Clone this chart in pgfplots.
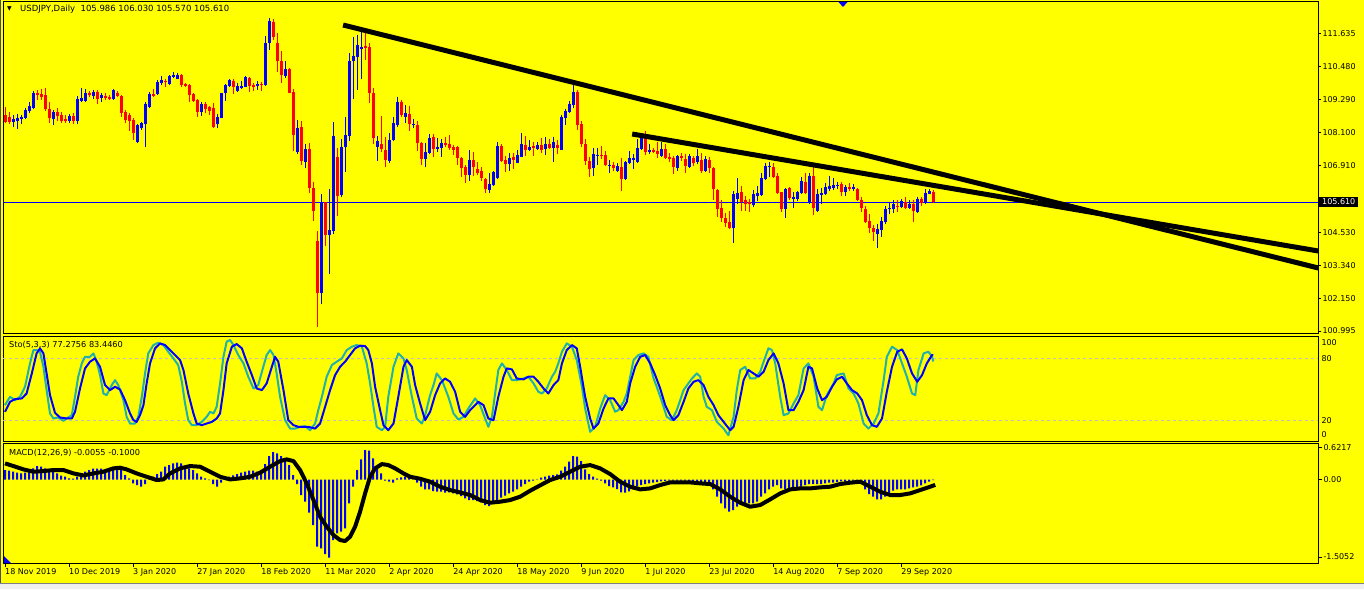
\documentclass[border=0pt]{standalone}
\usepackage{pgfplots}
\pgfplotsset{compat=1.18}
\usepackage{pgfplotstable}
\usepackage{fontspec}
\setmainfont{DejaVu Sans}
\definecolor{mtYellow}{HTML}{FFFF00}
\definecolor{mtBlue}{HTML}{0000FF}
\definecolor{mtRed}{HTML}{FF0000}
\definecolor{mtTeal}{HTML}{20B2AA}
\definecolor{mtSilver}{HTML}{C0C0C0}

% daily candles: bar index, open, high, low, close
\pgfplotstableread{
i o h l c
0 108.73 109.03 108.44 108.49
1 108.67 108.83 108.41 108.49
2 108.49 108.73 108.29 108.60
3 108.53 108.76 108.24 108.61
4 108.58 108.73 108.41 108.65
5 108.61 108.97 108.58 108.91
6 108.88 109.21 108.82 109.06
7 108.97 109.60 108.94 109.51
8 109.51 109.63 109.27 109.44
9 109.47 109.68 109.27 109.37
10 109.46 109.69 108.89 108.94
11 108.94 109.21 108.46 108.61
12 108.59 108.91 108.39 108.83
13 108.83 108.97 108.53 108.70
14 108.72 108.83 108.44 108.53
15 108.58 108.73 108.44 108.53
16 108.53 108.76 108.44 108.70
17 108.70 108.79 108.41 108.53
18 108.53 109.43 108.41 109.31
19 109.25 109.69 109.21 109.34
20 109.25 109.65 109.21 109.51
21 109.51 109.60 109.39 109.44
22 109.43 109.63 109.31 109.56
23 109.56 109.63 109.13 109.31
24 109.34 109.51 109.21 109.45
25 109.41 109.51 109.27 109.35
26 109.39 109.45 109.27 109.32
27 109.29 109.68 109.27 109.63
28 109.53 109.60 109.37 109.41
29 109.41 109.45 108.67 108.82
30 108.85 108.91 108.46 108.55
31 108.73 108.79 108.17 108.53
32 108.55 108.64 107.84 108.08
33 107.78 108.41 107.72 108.38
34 108.28 108.50 108.20 108.44
35 108.41 109.21 107.60 109.13
36 109.01 109.57 108.97 109.49
37 109.49 109.65 109.38 109.40
38 109.49 109.99 109.46 109.93
39 109.87 110.13 109.82 109.99
40 109.96 110.01 109.75 109.92
41 109.84 110.15 109.82 110.13
42 110.09 110.29 110.05 110.15
43 110.04 110.23 110.01 110.17
44 110.17 110.20 109.72 109.81
45 109.83 109.87 109.72 109.77
46 109.80 109.84 109.21 109.45
47 109.47 109.51 109.21 109.23
48 109.27 109.30 108.67 108.85
49 108.85 109.21 108.70 109.13
50 109.12 109.21 108.82 108.95
51 109.01 109.06 108.73 108.88
52 108.97 109.15 108.26 108.32
53 108.41 108.76 108.28 108.67
54 108.64 109.53 108.61 109.51
55 109.51 109.83 109.23 109.81
56 109.77 110.01 109.72 109.98
57 109.95 110.01 109.49 109.72
58 109.60 109.87 109.57 109.77
59 109.71 109.94 109.65 109.78
60 109.75 110.13 109.72 110.08
61 110.05 110.08 109.57 109.77
62 109.81 109.87 109.60 109.75
63 109.77 109.94 109.63 109.84
64 109.86 109.93 109.60 109.82
65 109.81 111.56 109.77 111.30
66 111.30 112.20 111.06 112.11
67 112.06 112.16 111.42 111.54
68 111.32 111.66 110.29 110.68
69 110.67 111.04 109.87 110.17
70 110.13 110.67 110.05 110.38
71 110.38 110.40 109.51 109.53
72 109.56 109.65 107.46 108.02
73 107.40 108.55 107.34 108.28
74 108.32 108.53 106.94 107.08
75 107.06 107.69 106.82 107.52
76 107.52 107.74 105.95 106.13
77 106.13 106.33 104.95 105.31
78 104.23 104.59 101.15 102.35
79 102.35 105.90 101.96 105.63
80 105.63 105.63 104.04 104.44
81 104.44 106.08 103.04 104.61
82 104.58 108.49 104.47 107.98
83 107.24 107.54 105.12 105.83
84 105.87 107.86 105.81 107.60
85 107.60 108.65 106.70 108.02
86 107.98 110.94 107.81 110.67
87 110.67 111.52 109.30 110.85
88 110.80 111.60 109.63 111.24
89 111.13 111.78 110.02 111.16
90 111.20 111.72 110.70 111.15
91 111.17 111.30 109.18 109.51
92 109.51 109.69 107.70 107.92
93 107.60 108.00 107.10 107.80
94 107.68 108.70 107.42 107.52
95 107.48 107.96 106.88 107.12
96 107.10 108.10 107.00 107.84
97 107.84 108.65 107.81 108.44
98 108.38 109.37 108.32 109.20
99 109.20 109.27 108.65 108.73
100 108.67 109.09 108.46 108.79
101 108.76 109.06 108.17 108.41
102 108.39 108.59 108.26 108.41
103 108.38 108.52 107.46 107.72
104 107.74 107.78 106.94 107.16
105 107.16 107.74 106.88 107.41
106 107.36 108.05 107.34 107.90
107 107.93 108.05 107.24 107.52
108 107.50 107.92 107.42 107.59
109 107.56 107.86 107.24 107.72
110 107.72 107.93 107.60 107.68
111 107.70 108.02 107.48 107.56
112 107.60 107.66 107.30 107.48
113 107.59 107.64 106.93 107.20
114 107.18 107.24 106.52 106.85
115 106.87 106.94 106.31 106.58
116 106.58 107.48 106.37 107.14
117 107.12 107.41 106.55 106.88
118 106.80 107.04 106.58 106.64
119 106.72 106.86 106.38 106.48
120 106.44 106.49 105.95 106.07
121 106.05 106.64 105.95 106.26
122 106.23 106.73 106.19 106.69
123 106.49 107.77 106.45 107.62
124 107.62 107.69 107.06 107.08
125 107.12 107.28 106.70 106.98
126 106.98 107.36 106.74 107.18
127 107.23 107.36 106.80 107.12
128 107.03 107.48 107.00 107.30
129 107.24 108.08 107.22 107.70
130 107.66 107.98 107.28 107.48
131 107.48 107.84 107.46 107.59
132 107.64 107.78 107.28 107.56
133 107.52 107.77 107.48 107.66
134 107.66 107.90 107.38 107.48
135 107.52 107.95 107.30 107.70
136 107.70 107.86 107.50 107.54
137 107.54 107.93 107.05 107.75
138 107.67 107.84 107.34 107.54
139 107.48 108.73 107.48 108.67
140 108.63 108.96 108.38 108.88
141 108.85 109.23 108.79 109.13
142 109.08 109.80 109.00 109.56
143 109.56 109.63 108.20 108.38
144 108.41 108.53 107.60 107.68
145 107.70 107.87 106.94 107.10
146 107.08 107.24 106.52 106.80
147 106.85 107.55 106.56 107.34
148 107.28 107.55 106.94 107.30
149 107.30 107.62 107.16 107.28
150 107.30 107.46 106.92 106.94
151 106.93 107.12 106.64 106.95
152 106.94 107.04 106.73 106.85
153 106.74 107.00 106.68 106.91
154 106.86 107.18 106.01 106.46
155 106.44 107.09 106.40 107.05
156 107.00 107.44 106.97 107.19
157 107.12 107.34 106.79 107.19
158 107.04 107.86 107.00 107.55
159 107.52 107.98 107.48 107.93
160 107.90 108.16 107.30 107.42
161 107.41 107.70 107.34 107.48
162 107.48 107.54 107.36 107.41
163 107.44 107.78 107.20 107.34
164 107.28 107.78 107.24 107.52
165 107.52 107.68 107.15 107.20
166 107.24 107.36 107.06 107.16
167 107.19 107.26 106.61 106.88
168 106.85 107.30 106.74 107.27
169 107.27 107.36 107.10 107.22
170 107.15 107.32 106.64 106.92
171 106.88 107.34 106.82 107.27
172 107.18 107.28 106.92 107.00
173 107.04 107.50 106.97 107.27
174 107.12 107.36 106.64 106.73
175 106.74 107.27 106.70 107.16
176 107.12 107.24 106.67 106.82
177 106.85 106.88 105.69 106.08
178 106.05 106.07 105.09 105.35
179 105.39 105.69 104.91 105.06
180 105.06 105.21 104.73 104.88
181 104.91 105.29 104.64 104.67
182 104.69 106.02 104.16 105.90
183 105.72 106.47 105.54 105.95
184 105.96 106.19 105.31 105.63
185 105.69 105.84 105.31 105.55
186 105.63 105.71 105.27 105.55
187 105.51 106.05 105.45 105.90
188 105.84 106.19 105.67 105.95
189 105.87 106.64 105.84 106.47
190 106.44 107.00 106.40 106.91
191 106.88 107.04 106.52 106.92
192 106.88 107.03 106.47 106.52
193 106.55 106.64 105.89 105.93
194 105.96 105.99 105.25 105.37
195 105.37 106.13 105.06 106.08
196 106.12 106.17 105.69 105.75
197 105.73 105.99 105.42 105.78
198 105.73 106.02 105.67 105.96
199 105.93 106.52 105.89 106.37
200 106.35 106.64 105.89 105.93
201 105.59 106.67 105.55 106.55
202 106.55 106.94 105.15 105.41
203 105.31 106.08 105.25 105.90
204 105.87 106.11 105.55 105.95
205 105.90 106.31 105.87 106.14
206 106.08 106.55 106.02 106.19
207 106.13 106.46 106.05 106.23
208 106.19 106.35 106.07 106.23
209 106.26 106.32 105.84 105.96
210 105.96 106.23 105.83 106.14
211 106.14 106.29 106.02 106.08
212 106.11 106.25 106.02 106.13
213 106.08 106.11 105.65 105.69
214 105.69 105.81 105.27 105.41
215 105.37 105.49 104.88 104.91
216 104.94 105.18 104.50 104.67
217 104.70 104.79 104.23 104.53
218 104.47 104.83 103.98 104.65
219 104.61 105.09 104.38 104.94
220 104.91 105.49 104.83 105.37
221 105.37 105.63 105.18 105.42
222 105.35 105.69 105.21 105.55
223 105.49 105.69 105.25 105.45
224 105.45 105.72 105.39 105.65
225 105.63 105.81 105.35 105.39
226 105.41 105.69 105.37 105.55
227 105.53 105.69 104.91 105.29
228 105.25 105.78 105.21 105.72
229 105.72 105.78 105.49 105.57
230 105.57 106.08 105.55 105.95
231 105.90 106.08 105.89 106.01
232 105.986 106.030 105.570 105.610
}\candles

% stochastic (5,3,3): main line and signal line
\pgfplotstableread{
i v
0 34.9
1.25 43.0
2.5 39.7
3.75 43.0
5 52.7
6.25 75.5
7.1 88.4
7.9 88.4
8.75 86.8
9.6 72.2
10.4 49.5
11.25 26.8
12.1 21.9
13.3 22.9
14.6 19.6
15.4 21.9
16.7 25.1
17.5 43.0
18.3 62.5
19.2 75.5
20 81.9
21.25 81.9
22.1 85.2
22.9 77.1
23.75 64.1
24.6 46.2
25.4 44.6
26.7 54.4
27.5 59.2
28.3 54.4
29.6 39.7
30.4 23.5
31.25 17.0
32.5 17.0
33.3 23.5
34.2 43.0
35 65.7
35.8 85.2
37.1 93.3
38.3 95.6
39.6 93.3
40.8 86.8
42.1 80.3
43.3 73.8
44.2 57.6
45 36.5
45.8 20.3
46.7 15.4
47.9 15.4
49.2 18.6
50.4 23.5
51.25 28.4
52.1 26.8
52.9 33.2
53.75 56.0
54.6 81.9
55.4 96.6
56.25 98.2
57.1 93.3
58.3 83.6
59.6 75.5
60.8 62.5
62.1 51.1
63.3 54.4
64.2 67.3
65.4 83.6
66.25 88.4
67.1 83.6
67.9 65.7
68.75 43.0
70 20.3
71.25 12.1
72.5 12.1
73.75 13.8
75 14.4
76.25 10.5
77.5 17.0
78.3 30.0
79.2 43.0
80.4 62.5
81.7 73.8
82.9 77.1
84.2 80.3
85.4 88.4
86.7 91.7
87.9 93.3
89.2 91.7
90.4 75.5
91.25 56.0
92.1 33.2
92.9 13.8
94.2 10.5
95 13.8
95.8 43.0
97.1 72.2
98.3 85.2
99.6 80.3
100.4 69.0
101.7 43.0
102.9 21.9
104.2 17.0
105 25.1
106.25 44.6
107.1 54.4
107.9 65.7
109.2 59.2
110.8 43.0
112.1 26.8
113.3 20.9
114.6 23.5
115.8 31.6
117.5 41.4
118.75 34.9
120 21.9
120.8 13.8
121.7 23.5
122.5 46.2
123.3 69.0
124.2 75.5
125.4 69.0
126.7 59.2
127.9 59.2
129.6 60.8
130.8 62.5
132.1 56.0
133.3 47.9
134.2 46.2
135.4 51.1
136.7 62.5
137.5 67.3
138.3 75.5
139.2 86.8
140.4 94.9
141.7 91.7
142.9 78.7
144.2 52.7
145 31.6
146.25 8.9
147.5 13.8
148.75 31.6
150 44.6
151.25 39.7
152.5 28.4
153.3 30.0
154.6 38.1
155.4 46.2
156.25 62.5
157.1 78.7
158.3 83.6
159.6 85.2
160.8 81.9
162.1 60.8
162.9 52.7
164.2 38.1
165.4 23.5
166.7 20.3
167.9 30.0
168.75 39.7
169.6 49.5
170.8 56.0
171.7 60.8
172.9 65.7
173.75 62.5
174.6 43.0
175.4 33.2
176.7 30.0
177.9 18.6
179.6 12.1
180.8 5.6
182.1 23.5
182.9 49.5
183.75 69.0
185 72.2
186.25 60.8
187.5 60.8
188.75 67.3
189.6 77.1
190.8 90.1
191.7 88.4
192.5 75.5
193.75 43.0
194.6 25.1
195.8 26.8
197.1 36.5
198.3 44.6
199.6 70.6
200.8 75.5
202.1 62.5
203.3 33.2
204.2 30.0
205.4 44.6
207.1 56.0
207.9 64.1
209.6 65.7
210.8 51.1
212.1 46.2
213.3 36.5
214.6 17.0
215.8 12.1
217.1 17.0
218.3 26.8
219.6 59.2
220.4 81.9
221.7 91.7
223 88.4
224.2 75.5
225.4 62.5
226.7 46.2
227.5 44.6
228.3 69.0
229.6 85.2
230.8 86.8
231.7 81.9
232 77.28
}\stomain

\pgfplotstableread{
i v
0 28.4
1.25 38.1
2.5 40.7
4.2 41.4
5.4 46.2
6.7 65.7
7.9 85.2
8.75 90.1
9.6 85.2
10.4 65.7
11.25 44.6
12.5 27.4
13.75 22.9
15.4 21.9
16.7 21.9
17.5 28.4
18.75 51.1
20 70.6
21.25 77.1
22.5 80.3
23.75 72.2
25 54.4
26.25 49.5
27.5 52.7
28.75 50.1
30 39.7
31.25 26.8
32.1 20.3
32.9 18.6
33.75 25.1
34.6 34.9
35.4 56.0
36.25 75.5
37.5 90.1
38.75 94.9
40 93.3
41.25 88.4
42.5 83.6
43.75 78.7
44.6 69.0
45.8 46.2
47.1 26.8
47.9 17.0
49.2 15.4
50.4 17.0
51.7 18.6
52.9 21.9
53.75 26.8
54.6 49.5
55.4 75.5
56.7 91.7
57.9 94.3
59.2 90.1
60.4 77.1
61.7 64.1
62.9 51.1
64.2 49.5
65.4 56.0
66.7 72.2
67.5 81.9
68.3 77.1
69.6 49.5
70.8 20.3
72.1 15.4
73.3 13.8
74.6 13.8
75.8 13.8
77.5 12.1
78.75 17.0
80 33.2
81.25 49.5
82.5 64.1
83.75 72.2
85 77.1
86.25 83.6
87.5 90.1
88.75 92.7
90 92.3
90.8 88.4
91.7 75.5
92.5 52.7
93.75 30.0
94.6 15.4
95.8 10.5
97.1 17.0
98.3 43.0
99.6 72.2
100.4 78.7
101.7 72.2
102.5 54.4
103.75 36.5
105 20.3
106.25 28.4
107.5 44.6
108.75 56.0
110 60.8
111.25 57.6
112.5 47.9
113.75 28.4
115 23.5
116.25 30.0
118.3 38.1
119.6 34.9
120.8 21.9
122.1 20.3
123.3 43.0
124.6 62.5
125.4 70.6
126.7 69.6
127.9 60.8
129.6 59.9
130.8 62.5
132.1 62.5
133.3 57.6
134.6 51.1
135.8 46.2
137.1 54.4
138.3 59.2
139.2 75.5
140.4 88.4
141.7 93.3
142.9 90.1
143.75 72.2
145 43.0
146.25 21.9
147.1 12.1
148.3 17.0
149.6 31.6
150.8 41.4
152.1 41.4
153.3 34.9
154.2 30.0
155.4 38.1
156.25 56.0
157.5 72.2
158.75 81.9
160 83.6
161.25 75.5
162.5 64.1
163.75 51.1
165 34.9
166.25 25.1
167.1 20.3
168.3 25.1
169.6 38.1
170.8 51.1
172.1 57.6
173.3 59.2
174.6 54.4
175.8 43.0
177.1 34.9
178.3 25.1
179.6 18.6
181.25 10.5
182.1 13.8
183.3 33.2
184.6 59.2
185.8 69.0
187.1 65.7
188.3 62.5
189.6 67.3
190.8 78.7
192.1 85.2
193.3 75.5
194.6 56.0
195.8 30.0
197.1 30.0
198.3 38.1
199.6 49.5
200.8 72.2
201.7 70.6
203 51.1
204.2 39.7
205.4 43.0
206.7 52.7
207.9 59.9
209.2 62.5
210.4 56.0
211.7 49.5
213 46.2
214.2 39.7
215.4 25.1
216.7 15.4
217.9 13.8
219.2 21.9
220.4 47.9
221.7 72.2
223 86.8
224.2 89.1
225.4 80.3
226.7 65.7
228 57.6
229.2 64.1
230.4 75.5
231.7 83.6
232 83.45
}\stosignal

% MACD(12,26,9): main values (histogram) and signal line
\pgfplotstableread{
i m
0 0.188
1 0.175
2 0.156
3 0.136
4 0.123
5 0.136
6 0.156
7 0.221
8 0.266
9 0.253
10 0.221
11 0.188
12 0.156
13 0.123
14 0.078
15 0.058
16 0.026
17 0.019
18 0.058
19 0.110
20 0.156
21 0.188
22 0.214
23 0.214
24 0.214
25 0.188
26 0.188
27 0.221
28 0.240
29 0.188
30 0.091
31 0.026
32 -0.071
33 -0.104
34 -0.136
35 -0.084
36 0.006
37 0.058
38 0.110
39 0.156
40 0.253
41 0.285
42 0.318
43 0.331
44 0.318
45 0.266
46 0.221
47 0.188
48 0.123
49 0.058
50 0.026
51 -0.006
52 -0.084
53 -0.136
54 -0.058
55 0.006
56 0.058
57 0.084
58 0.110
59 0.136
60 0.156
61 0.175
62 0.175
63 0.156
64 0.188
65 0.305
66 0.461
67 0.539
68 0.513
69 0.461
70 0.416
71 0.285
72 0.091
73 -0.084
74 -0.298
75 -0.428
76 -0.643
77 -0.883
78 -1.305
79 -1.337
80 -1.447
81 -1.518
82 -1.175
83 -1.045
84 -1.013
85 -0.948
86 -0.461
87 -0.136
88 0.188
89 0.396
90 0.578
91 0.565
92 0.416
93 0.266
94 0.123
95 -0.019
96 -0.039
97 -0.058
98 0.026
99 0.045
100 0.058
101 0.039
102 0.006
103 -0.058
104 -0.136
105 -0.188
106 -0.188
107 -0.221
108 -0.234
109 -0.234
110 -0.253
111 -0.247
112 -0.266
113 -0.286
114 -0.318
115 -0.363
116 -0.396
117 -0.396
118 -0.415
119 -0.441
120 -0.493
121 -0.513
122 -0.461
123 -0.428
124 -0.350
125 -0.311
126 -0.266
127 -0.234
128 -0.188
129 -0.136
130 -0.084
131 -0.039
132 -0.019
133 0.006
134 0.039
135 0.058
136 0.078
137 0.091
138 0.104
139 0.175
140 0.253
141 0.350
142 0.461
143 0.448
144 0.363
145 0.201
146 0.110
147 0.058
148 0.019
149 -0.019
150 -0.071
151 -0.123
152 -0.149
153 -0.182
154 -0.247
155 -0.253
156 -0.227
157 -0.188
158 -0.136
159 -0.104
160 -0.084
161 -0.071
162 -0.058
163 -0.045
164 -0.032
165 -0.026
166 -0.019
167 -0.019
168 -0.019
169 -0.019
170 -0.019
171 -0.026
172 -0.039
173 -0.058
174 -0.084
175 -0.071
176 -0.104
177 -0.188
178 -0.331
179 -0.461
180 -0.558
181 -0.623
182 -0.590
183 -0.526
184 -0.474
185 -0.474
186 -0.461
187 -0.461
188 -0.428
189 -0.331
190 -0.266
191 -0.188
192 -0.136
193 -0.104
194 -0.169
195 -0.188
196 -0.188
197 -0.182
198 -0.169
199 -0.136
200 -0.104
201 -0.084
202 -0.084
203 -0.084
204 -0.084
205 -0.071
206 -0.058
207 -0.058
208 -0.045
209 -0.032
210 -0.039
211 -0.039
212 -0.019
213 -0.019
214 -0.058
215 -0.188
216 -0.279
217 -0.331
218 -0.383
219 -0.383
220 -0.331
221 -0.266
222 -0.214
223 -0.188
224 -0.188
225 -0.188
226 -0.169
227 -0.149
228 -0.136
229 -0.110
230 -0.071
231 -0.039
232 -0.006
}\macdmain

\pgfplotstableread{
i m
0 0.318
2.1 0.266
4.6 0.201
7.1 0.156
9.6 0.169
12.1 0.188
14.6 0.188
17.1 0.123
19.6 0.084
22.1 0.123
24.6 0.156
27.1 0.221
28.75 0.234
30.4 0.201
32.9 0.123
35.4 0.058
37.9 -0.006
39.6 0.006
41.25 0.123
43.75 0.221
46.25 0.266
48.75 0.253
51.25 0.156
53.75 0.058
56.25 0.006
58.75 0.026
61.25 0.058
63.75 0.136
66.25 0.253
68.75 0.363
70.4 0.396
72.1 0.363
73.75 0.188
75.4 -0.071
77.1 -0.396
78.75 -0.720
80.4 -0.915
82.1 -1.078
83.75 -1.175
85 -1.194
86.25 -1.110
87.5 -0.915
88.75 -0.623
90 -0.266
91.25 0.058
92.5 0.221
94.2 0.305
95.8 0.285
97.5 0.221
99.6 0.123
101.25 0.058
103.75 0.019
106.25 -0.039
108.75 -0.136
111.25 -0.201
113.75 -0.247
116.25 -0.298
118.75 -0.396
121.25 -0.448
123.75 -0.428
126.25 -0.396
128.75 -0.331
131.25 -0.214
133.75 -0.110
136.25 -0.006
138.75 0.058
141.25 0.156
143.75 0.253
146.25 0.285
148.75 0.221
151.25 0.110
153.75 -0.039
156.25 -0.136
158.75 -0.188
161.25 -0.169
163.75 -0.104
166.25 -0.052
168.75 -0.052
171.25 -0.052
173.75 -0.071
176.25 -0.084
178.75 -0.188
181.25 -0.331
183.75 -0.448
186.25 -0.526
188.75 -0.493
191.25 -0.383
193.75 -0.266
196.25 -0.188
198.75 -0.169
201.25 -0.169
203.75 -0.149
206.25 -0.136
208.75 -0.084
211.25 -0.058
213.75 -0.039
216.25 -0.136
218.75 -0.234
221.25 -0.298
223.75 -0.298
226.25 -0.266
228.75 -0.201
231.25 -0.136
232.5 -0.100
}\macdsignal

\pgfplotsset{
  pane/.style={
    scale only axis, width=1315pt, anchor=north west,
    xmin=-0.5, xmax=328.25,
    axis line style={line width=1pt, black},
    xtick=\empty,
    ytick pos=right,
    tick align=outside,
    major tick length=3pt,
    tick style={black, line width=1pt},
    ticklabel style={font=\fontsize{8}{9}\selectfont, black, inner sep=1pt},
    yticklabel style={anchor=west},
  },
  wick/.style={draw=none, mark=none, restrict y to domain=90:130,
    error bars/y dir=both, error bars/y explicit, error bars/error mark=none,
    error bars/error bar style={line width=1pt, draw=#1}},
  body/.style={draw=none, mark=none, restrict y to domain=90:130,
    error bars/y dir=both, error bars/y explicit, error bars/error mark=none,
    error bars/error bar style={line width=3pt, draw=#1}},
}

\begin{document}
\begin{tikzpicture}
\fill[mtYellow] (0,0) rectangle (1364pt,-589pt);
\useasboundingbox (0,0) rectangle (1364pt,-589pt);
\fill[white!94!black] (0,-583pt) rectangle (1364pt,-589pt);
\draw[gray, line width=1pt] (0,-583.5pt) -- (1364pt,-583.5pt);
\draw[black!70, line width=1pt] (0.5pt,0) -- (0.5pt,-583pt);

% price pane
\begin{axis}[pane, at={(3pt,-1pt)}, height=332pt,
    ymin=100.925, ymax=112.817,
    ytick={111.635,110.480,109.290,108.100,106.910,104.530,103.340,102.150,100.995},
    yticklabels={111.635,110.480,109.290,108.100,106.910,104.530,103.340,102.150,100.995}]
\addplot[mtBlue, line width=1pt] coordinates {(-0.5,105.61) (328.25,105.61)};
\addplot[wick=mtBlue] table[x=i, y expr={\thisrow{c}>=\thisrow{o} ? (\thisrow{h}+\thisrow{l})/2 : 1000}, y error expr={(\thisrow{h}-\thisrow{l})/2}] {\candles};
\addplot[wick=mtRed] table[x=i, y expr={\thisrow{c}<\thisrow{o} ? (\thisrow{h}+\thisrow{l})/2 : 1000}, y error expr={(\thisrow{h}-\thisrow{l})/2}] {\candles};
\addplot[body=mtBlue] table[x=i, y expr={\thisrow{c}>=\thisrow{o} ? (\thisrow{o}+\thisrow{c})/2 : 1000}, y error expr={max(abs(\thisrow{c}-\thisrow{o})/2,0.018)}] {\candles};
\addplot[body=mtRed] table[x=i, y expr={\thisrow{c}<\thisrow{o} ? (\thisrow{o}+\thisrow{c})/2 : 1000}, y error expr={max(abs(\thisrow{c}-\thisrow{o})/2,0.018)}] {\candles};
% trend lines
\addplot[black, line width=5pt] coordinates {(84.5,111.957) (328.25,103.253)};
\addplot[black, line width=5pt] coordinates {(156.75,108.053) (328.25,103.862)};
\end{axis}

% stochastic pane
\begin{axis}[pane, at={(3pt,-336pt)}, height=105pt,
    ymin=0, ymax=102.1,
    major tick length=0pt,
    ytick={6.3,20,80,95.3}, yticklabels={0,20,80,100},
    yticklabel style={xshift=2pt}]
\addplot[mtSilver, line width=1pt, dash pattern=on 3pt off 3pt] coordinates {(-0.5,80) (328.25,80)};
\addplot[mtSilver, line width=1pt, dash pattern=on 3pt off 3pt] coordinates {(-0.5,20) (328.25,20)};
\addplot[mtTeal, line width=2pt, line join=round] table[x=i, y=v] {\stomain};
\addplot[mtBlue, line width=2pt, line join=round] table[x=i, y=v] {\stosignal};
\end{axis}

% MACD pane
\begin{axis}[pane, at={(3pt,-443pt)}, height=120pt,
    ymin=-1.622, ymax=0.715,
    major tick length=4pt,
    ytick={-1.5052,0,0.6217}, yticklabels={-1.5052,0.00,0.6217},
    xtick={0,16,...,224}, xtick pos=bottom, x tick label style={anchor=north west, xshift=-1pt},
    xticklabels={18 Nov 2019,10 Dec 2019,3 Jan 2020,27 Jan 2020,18 Feb 2020,11 Mar 2020,2 Apr 2020,24 Apr 2020,18 May 2020,9 Jun 2020,1 Jul 2020,23 Jul 2020,14 Aug 2020,7 Sep 2020,29 Sep 2020}]
\addplot[ybar, bar width=2pt, fill=mtBlue, draw=none] table[x=i, y=m] {\macdmain};
\addplot[black, line width=4pt, line join=round] table[x=i, y=m] {\macdsignal};
\end{axis}

% panel captions and markers
\node[anchor=west, inner sep=0pt, font=\fontsize{6}{6}\selectfont] at (7pt,-9pt) {▼};
\node[anchor=west, inner sep=0pt, font=\fontsize{8.5}{9}\selectfont] at (20pt,-9pt) {USDJPY,Daily\ \ 105.986 106.030 105.570 105.610};
\node[anchor=west, inner sep=0pt, font=\fontsize{8.2}{9}\selectfont] at (9pt,-345pt) {Sto(5,3,3) 77.2756 83.4460};
\node[anchor=west, inner sep=0pt, font=\fontsize{8.2}{9}\selectfont] at (9pt,-453pt) {MACD(12,26,9) -0.0055 -0.1000};
\node[anchor=west, fill=black, text=white, inner xsep=3pt, inner ysep=1.5pt, font=\fontsize{8}{9}\selectfont] at (1319pt,-202pt) {105.610};
\fill[mtBlue] (838.5pt,-2pt) -- (847.5pt,-2pt) -- (843pt,-7pt) -- cycle;
\fill[mtBlue] (4pt,-556pt) -- (4pt,-563pt) -- (11pt,-563pt) -- cycle;
\end{tikzpicture}
\end{document}
